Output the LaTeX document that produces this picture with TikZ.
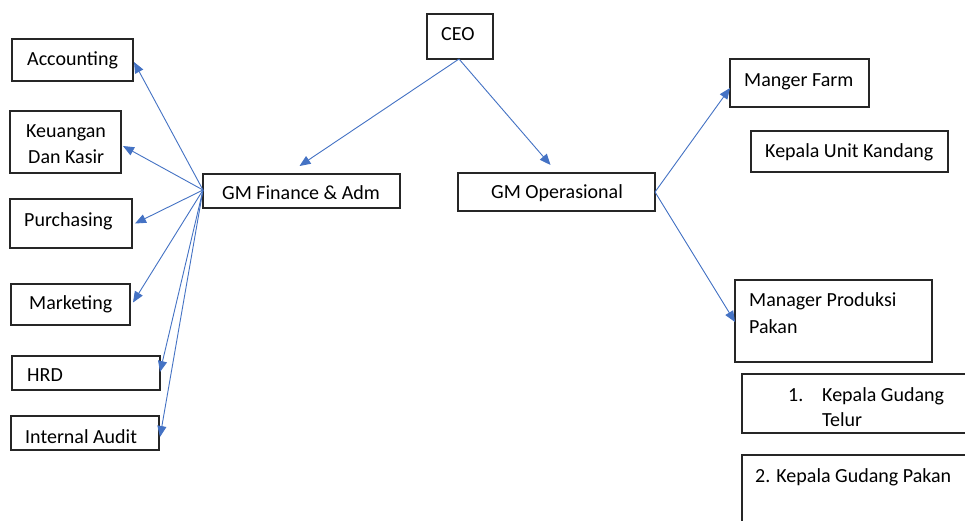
\documentclass[tikz,border=0pt]{standalone}
\usepackage{fontspec}
\setmainfont{Carlito}
\usetikzlibrary{arrows.meta,calc}
\definecolor{lnblue}{HTML}{4472C4}
\definecolor{boxline}{HTML}{262626}
\tikzset{
  box/.style={draw=boxline, line width=1.1pt, inner sep=0pt, outer sep=0pt, anchor=north west},
  txt/.style={inner sep=0pt, anchor=base west, font=\fontsize{20}{26}\selectfont, text=black},
  conn/.style={draw=lnblue, line width=0.9pt, -{Triangle[length=11pt,width=9pt]}}
}
\begin{document}
\begin{tikzpicture}[x=1pt,y=-1pt]
\clip (0,0) rectangle (965,520);
\fill[white] (0,0) rectangle (965,520);
% boxes
\node[box, minimum width=66, minimum height=45] (ceo) at (427,14) {};
\node[box, minimum width=197, minimum height=34] (fin) at (203,174) {};
\node[box, minimum width=197, minimum height=38] (op) at (458,173) {};
\node[box, minimum width=121, minimum height=42] (acc) at (12,39) {};
\node[box, minimum width=111, minimum height=62] (keu) at (10,111) {};
\node[box, minimum width=122, minimum height=49] (pur) at (10,199) {};
\node[box, minimum width=119, minimum height=41] (mkt) at (11,284) {};
\node[box, minimum width=148, minimum height=34] (hrd) at (12,356) {};
\node[box, minimum width=148, minimum height=34] (aud) at (11,416) {};
\node[box, minimum width=139, minimum height=48] (farm) at (730,59) {};
\node[box, minimum width=197, minimum height=41] (kand) at (751,131) {};
\node[box, minimum width=197, minimum height=82] (prod) at (735,280) {};
\node[box, minimum width=230, minimum height=59] (telur) at (742,374) {};
\node[box, minimum width=230, minimum height=80] (pakan) at (742,455) {};
% texts
\node[txt] (tceo) at (441,40) {CEO};
\node[txt] (tfin) at (222,199) {GM Finance \& Adm};
\node[txt] (top) at (491,198) {GM Operasional};
\node[txt] (tacc) at (27,65) {Accounting};
\node[txt] (tkeu1) at (26,137) {Keuangan};
\node[txt] (tkeu2) at (28,163) {Dan Kasir};
\node[txt] (tpur) at (24,226) {Purchasing};
\node[txt] (tmkt) at (29,309) {Marketing};
\node[txt] (thrd) at (27,381) {HRD};
\node[txt] (taud) at (25,443) {Internal Audit};
\node[txt] (tfarm) at (744,86) {Manger Farm};
\node[txt] (tkand) at (765,157) {Kepala Unit Kandang};
\node[txt] (tprod1) at (749,306) {Manager Produksi};
\node[txt] (tprod2) at (749,333) {Pakan};
\node[txt] (tnum1) at (788,401) {1.};
\node[txt] (ttel1) at (822,401) {Kepala Gudang};
\node[txt] (ttel2) at (822,426) {Telur};
\node[txt] (tpak) at (755,482) {2. Kepala Gudang Pakan};
% connectors
\draw[conn] ($(ceo.south)+(-1,0)$) -- ($(fin.north)+(-2,-8)$);
\draw[conn] ($(ceo.south)+(-1,0)$) -- ($(op.north)+(-6,-8)$);
\draw[conn] ($(fin.west)+(0,-1)$) -- ($(acc.east)+(1,2)$);
\draw[conn] ($(fin.west)+(0,-1)$) -- ($(keu.east)+(2,4)$);
\draw[conn] ($(fin.west)+(0,-1)$) -- ($(pur.east)+(3,0)$);
\draw[conn] ($(fin.west)+(0,-1)$) -- ($(mkt.east)+(3,-2)$);
\draw[conn] ($(fin.west)+(0,-1)$) -- ($(hrd.east)+(0,-1)$);
\draw[conn] ($(fin.west)+(0,-1)$) -- ($(aud.east)+(1,4)$);
\draw[conn] (op.east) -- ($(farm.west)+(0,5)$);
\draw[conn] (op.east) -- ($(prod.west)+(0,1)$);
\end{tikzpicture}
\end{document}
